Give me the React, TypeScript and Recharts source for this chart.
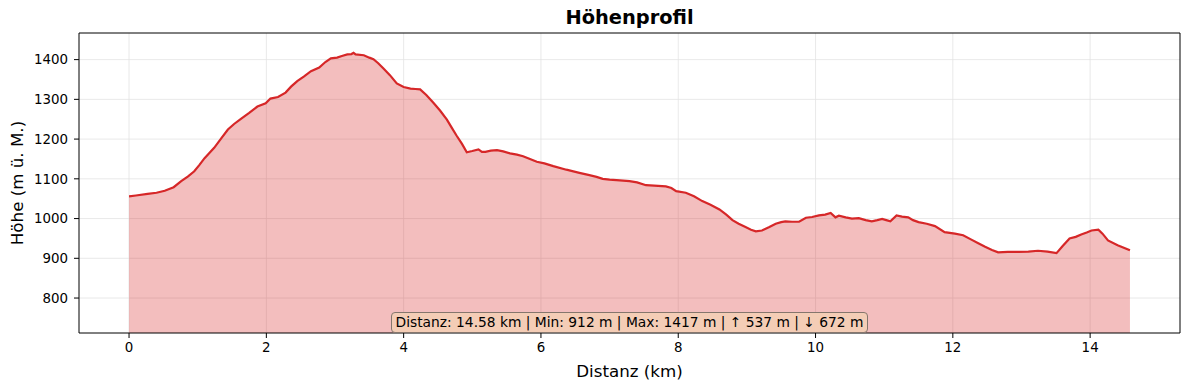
import {
    Area,
    CartesianGrid,
    ComposedChart,
    Label,
    ReferenceArea,
    XAxis,
    YAxis,
} from "recharts";

// Distanz in km, Höhe in m ü. M.
const distanzKm = [
    0, 0.1, 0.27, 0.4, 0.52, 0.65, 0.76, 0.86, 0.95, 1.02, 1.1, 1.17, 1.24, 1.34,
    1.44, 1.53, 1.63, 1.75, 1.87, 1.99, 2.06, 2.17, 2.28, 2.36, 2.45, 2.55, 2.65,
    2.77, 2.86, 2.94, 3.03, 3.1, 3.18, 3.24, 3.27, 3.3, 3.42, 3.5, 3.56, 3.63,
    3.71, 3.8, 3.9, 4.0, 4.1, 4.17, 4.24, 4.33, 4.43, 4.53, 4.63, 4.7, 4.77, 4.85,
    4.92, 5.0, 5.09, 5.14, 5.19, 5.27, 5.36, 5.45, 5.55, 5.65, 5.74, 5.84, 5.94,
    6.05, 6.18, 6.37, 6.56, 6.69, 6.81, 6.9, 7.0, 7.15, 7.29, 7.4, 7.53, 7.65,
    7.82, 7.9, 7.97, 8.11, 8.23, 8.35, 8.47, 8.6, 8.7, 8.79, 8.88, 8.98, 9.06,
    9.13, 9.22, 9.32, 9.42, 9.5, 9.56, 9.66, 9.76, 9.86, 9.95, 10.05, 10.14,
    10.22, 10.29, 10.34, 10.44, 10.53, 10.63, 10.73, 10.82, 10.9, 10.97, 11.03,
    11.09, 11.18, 11.26, 11.35, 11.42, 11.5, 11.62, 11.74, 11.88, 12.03, 12.15,
    12.27, 12.37, 12.47, 12.57, 12.66, 12.8, 12.95, 13.1, 13.24, 13.38, 13.51,
    13.6, 13.7, 13.79, 13.87, 13.95, 14.02, 14.12, 14.18, 14.26, 14.4, 14.58,
];

const hoeheM = [
    1056, 1058, 1062, 1065, 1070, 1079, 1094, 1106, 1119, 1134, 1152, 1165, 1178,
    1201, 1224, 1238, 1251, 1266, 1282, 1290, 1302, 1306, 1317, 1332, 1346, 1358,
    1371, 1380, 1394, 1403, 1405, 1409, 1413, 1414, 1417, 1413, 1411, 1405, 1401,
    1391, 1377, 1361, 1340, 1331, 1327, 1326, 1325, 1311, 1292, 1272, 1249, 1229,
    1209, 1188, 1167, 1170, 1174, 1168, 1168, 1171, 1172, 1169, 1164, 1161, 1157,
    1150, 1143, 1139, 1132, 1123, 1115, 1110, 1105, 1100, 1098, 1096, 1094, 1091,
    1084, 1083, 1081, 1077, 1069, 1065, 1056, 1044, 1035, 1023, 1010, 996, 987,
    979, 972, 968, 970, 978, 987, 991, 993, 992, 992, 1002, 1004, 1008, 1010,
    1014, 1003, 1007, 1003, 1000, 1001, 996, 993, 996, 999, 996, 993, 1008, 1005,
    1003, 996, 991, 987, 981, 966, 962, 958, 947, 938, 929, 921, 915, 916, 916,
    917, 919, 917, 913, 931, 950, 954, 960, 965, 970, 972, 962, 945, 933, 920,
];

const xTicks = [0, 2, 4, 6, 8, 10, 12, 14];
const yTicks = [800, 900, 1000, 1100, 1200, 1300, 1400];

const statsText =
    "Distanz: 14.58 km | Min: 912 m | Max: 1417 m | \u2191 537 m | \u2193 672 m";

const profileData = distanzKm.map((km, i) => ({ km, hoehe: hoeheM[i] }));

const font = "'DejaVu Sans', sans-serif";

const App = () => {
    return (
        <div
            style={{
                position: "absolute",
                left: 0,
                top: 0,
                width: 1189,
                height: 390,
                background: "#fff",
                fontFamily: font,
            }}
        >
            <div
                style={{
                    position: "absolute",
                    left: 0,
                    width: 1259,
                    top: 7,
                    textAlign: "center",
                    fontSize: 19.4,
                    fontWeight: "bold",
                    color: "#000",
                    lineHeight: "22px",
                }}
            >
                Höhenprofil
            </div>
            <ComposedChart
                width={1189}
                height={390}
                data={profileData}
                margin={{ top: 33, right: 9, left: 19, bottom: 27 }}
            >
                <CartesianGrid
                    stroke="#e3e3e3"
                    strokeWidth={0.8}
                    horizontalValues={yTicks}
                    verticalValues={xTicks}
                />
                <XAxis
                    type="number"
                    dataKey="km"
                    domain={[-0.729, 15.309]}
                    ticks={xTicks}
                    allowDataOverflow
                    height={30}
                    tickSize={5}
                    tickMargin={4}
                    axisLine={false}
                    tickLine={{ stroke: "#000" }}
                    tick={{ fill: "#000", fontSize: 13.4, fontFamily: font }}
                >
                    <Label
                        value="Distanz (km)"
                        position="insideBottom"
                        offset={-14}
                        style={{ fill: "#000", fontSize: 16.7, fontFamily: font }}
                    />
                </XAxis>
                <YAxis
                    type="number"
                    domain={[712, 1467]}
                    ticks={yTicks}
                    allowDataOverflow
                    width={60}
                    tickSize={5}
                    tickMargin={6}
                    axisLine={false}
                    tickLine={{ stroke: "#000" }}
                    tick={{ fill: "#000", fontSize: 13.4, fontFamily: font }}
                >
                    <Label
                        value="Höhe (m ü. M.)"
                        angle={-90}
                        position="insideLeft"
                        offset={-2}
                        style={{
                            fill: "#000",
                            fontSize: 16.7,
                            fontFamily: font,
                            textAnchor: "middle",
                        }}
                    />
                </YAxis>
                <Area
                    type="linear"
                    dataKey="hoehe"
                    stroke="#d62728"
                    strokeWidth={2.2}
                    fill="#d62728"
                    fillOpacity={0.3}
                    dot={false}
                    activeDot={false}
                    isAnimationActive={false}
                />
                <ReferenceArea
                    x1={-0.729}
                    x2={15.309}
                    y1={712}
                    y2={1467}
                    fill="none"
                    stroke="#000"
                    strokeWidth={1}
                    ifOverflow="visible"
                />
            </ComposedChart>
            <div
                style={{
                    position: "absolute",
                    left: 391,
                    top: 312,
                    width: 475,
                    height: 19,
                    background: "#f4cdb6",
                    border: "1px solid #85766d",
                    borderRadius: 4,
                    fontSize: 13.8,
                    lineHeight: "19px",
                    textAlign: "center",
                    color: "#000",
                    whiteSpace: "nowrap",
                }}
            >
                {statsText}
            </div>
        </div>
    );
};

export default App;
